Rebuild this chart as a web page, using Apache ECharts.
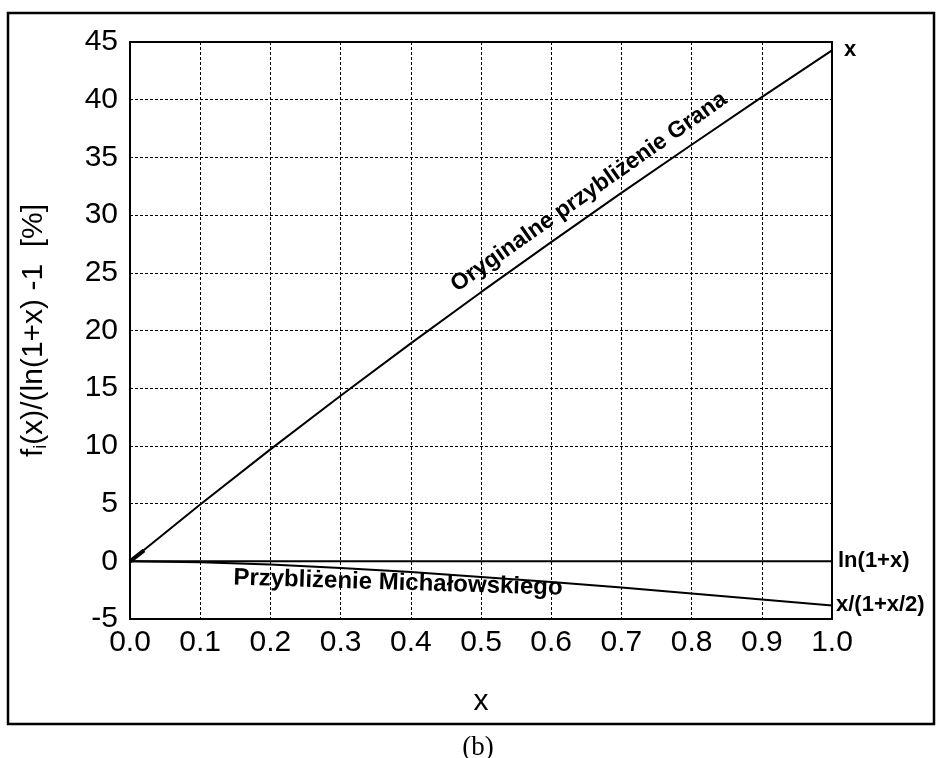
<!DOCTYPE html>
<html>
<head>
<meta charset="utf-8">
<script src="https://cdn.jsdelivr.net/npm/echarts@6/dist/echarts.min.js"></script>
<style>
  html, body { margin: 0; padding: 0; background: #fff; }
  #chart { width: 941px; height: 758px; }
</style>
</head>
<body>
<div id="chart"></div>
<script>
// x values shared by the curves
const xValues = [0.0, 0.1, 0.2, 0.3, 0.4, 0.5, 0.6, 0.7, 0.8, 0.9, 1.0];
// relative error [%] of f(x) = x
const granaErr = [0, 4.92, 9.70, 14.35, 18.88, 23.32, 27.66, 31.92, 36.10, 40.22, 44.27];
// relative error [%] of f(x) = ln(1+x) (reference, zero)
const lnErr = [0, 0, 0, 0, 0, 0, 0, 0, 0, 0, 0];
// relative error [%] of f(x) = x/(1+x/2)
const michErr = [0, -0.08, -0.28, -0.57, -0.93, -1.35, -1.80, -2.28, -2.78, -3.30, -3.82];
// short heavy stroke near the origin
const nearX = [0.0, 0.02];
const nearErr = [0.0, 0.95];

const xTicks = ['0.0', '0.1', '0.2', '0.3', '0.4', '0.5', '0.6', '0.7', '0.8', '0.9', '1.0'];

const pairs = (xs, ys) => xs.map((x, i) => [x, ys[i]]);

const chart = echarts.init(document.getElementById('chart'), null, { renderer: 'canvas' });

const labelFont = 'Liberation Sans, Arial, sans-serif';

chart.setOption({
  animation: false,
  backgroundColor: '#fff',
  grid: {
    left: 130, top: 42, width: 702, height: 577,
    show: true, borderColor: '#000', borderWidth: 2, backgroundColor: 'transparent'
  },
  xAxis: {
    type: 'value', min: 0, max: 1, interval: 0.1,
    name: 'x', nameLocation: 'middle', nameGap: 68,
    nameTextStyle: { fontFamily: labelFont, fontSize: 30, color: '#000' },
    axisLine: { show: true, onZero: false, lineStyle: { color: '#000', width: 2 } },
    axisTick: { show: false },
    axisLabel: {
      fontFamily: labelFont, fontSize: 30, color: '#000', margin: 9,
      formatter: (v) => xTicks[Math.round(v * 10)]
    },
    splitLine: { show: true, lineStyle: { color: '#000', width: 1, type: [3, 2] } }
  },
  yAxis: {
    type: 'value', min: -5, max: 45, interval: 5,
    name: '{f|f}{s|i}{f|(x)/(ln(1+x) -1  [%]}', nameLocation: 'middle', nameGap: 80, nameRotate: 90,
    nameTextStyle: {
      rich: {
        f: { fontFamily: labelFont, fontSize: 30, color: '#000' },
        s: { fontFamily: labelFont, fontSize: 18, color: '#000', padding: [15, 0, 0, 0] }
      }
    },
    axisLine: { show: true, onZero: false, lineStyle: { color: '#000', width: 2 } },
    axisTick: { show: false },
    axisLabel: { fontFamily: labelFont, fontSize: 30, color: '#000', margin: 12 },
    splitLine: { show: true, lineStyle: { color: '#000', width: 1, type: [3, 2] } }
  },
  series: [
    {
      name: 'x', type: 'line', data: pairs(xValues, granaErr), showSymbol: false,
      lineStyle: { color: '#000', width: 2 },
      endLabel: { show: true, formatter: 'x', distance: 12, fontFamily: labelFont, fontWeight: 'bold', fontSize: 22, color: '#000' }
    },
    {
      name: 'ln(1+x)', type: 'line', data: pairs(xValues, lnErr), showSymbol: false,
      lineStyle: { color: '#000', width: 2 },
      endLabel: { show: true, formatter: 'ln(1+x)', distance: 6, fontFamily: labelFont, fontWeight: 'bold', fontSize: 22, color: '#000' }
    },
    {
      name: 'x/(1+x/2)', type: 'line', data: pairs(xValues, michErr), showSymbol: false,
      lineStyle: { color: '#000', width: 2 },
      endLabel: { show: true, formatter: 'x/(1+x/2)', distance: 4, fontFamily: labelFont, fontWeight: 'bold', fontSize: 22, color: '#000' }
    },
    {
      name: 'origin', type: 'line', data: pairs(nearX, nearErr), showSymbol: false,
      lineStyle: { color: '#000', width: 4 }
    }
  ],
  graphic: [
    {
      type: 'rect', shape: { x: 8, y: 13, width: 926, height: 711 }, silent: true,
      style: { fill: 'none', stroke: '#000', lineWidth: 2.5 }
    },
    {
      type: 'text', x: 589, y: 192, rotation: 35 * Math.PI / 180,
      style: { text: 'Oryginalne przybliżenie Grana', font: 'bold 23px ' + labelFont, fill: '#000', align: 'center', verticalAlign: 'middle' }
    },
    {
      type: 'text', x: 398, y: 583, rotation: -1.8 * Math.PI / 180,
      style: { text: 'Przybliżenie Michałowskiego', font: 'bold 24px ' + labelFont, fill: '#000', align: 'center', verticalAlign: 'middle' }
    },
    {
      type: 'text', x: 478, y: 748,
      style: { text: '(b)', font: '27px Liberation Serif, Times New Roman, serif', fill: '#000', align: 'center', verticalAlign: 'middle' }
    }
  ]
});
</script>
</body>
</html>
